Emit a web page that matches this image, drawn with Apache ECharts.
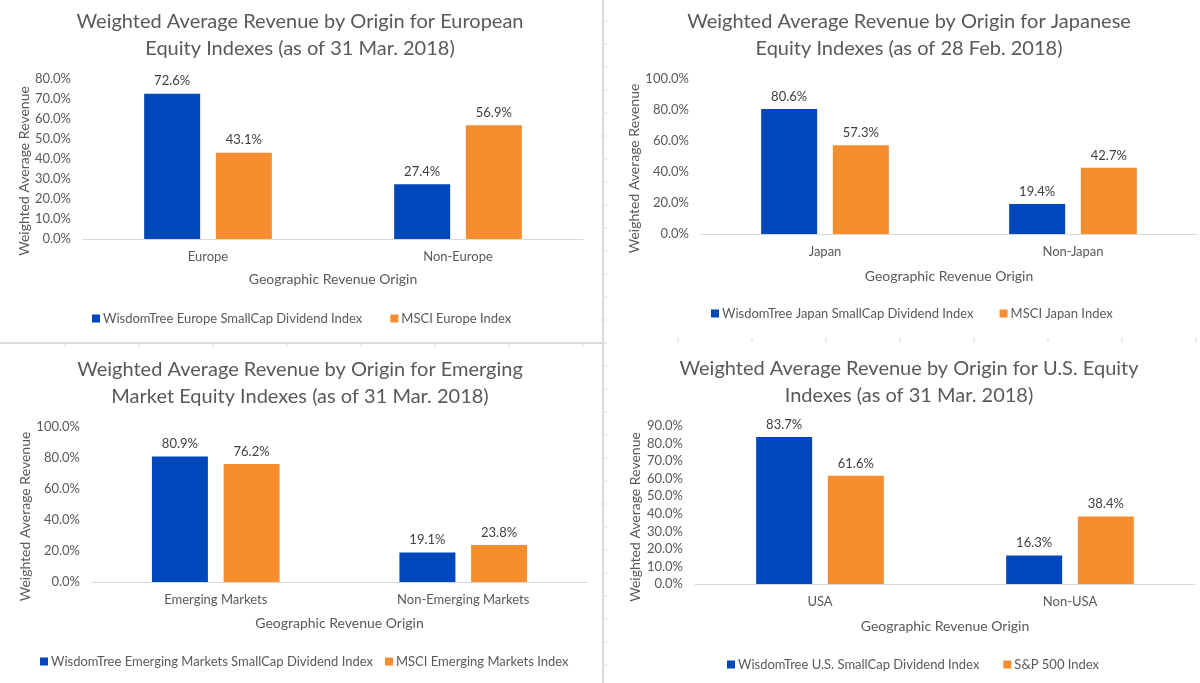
<!DOCTYPE html>
<html>
<head>
<meta charset="utf-8">
<title>Weighted Average Revenue by Origin</title>
<script src="https://cdn.jsdelivr.net/npm/echarts@6/dist/echarts.min.js"></script>
<style>
  html, body { margin: 0; padding: 0; background: #fff; }
  #main { width: 1200px; height: 683px; }
</style>
</head>
<body>
<div id="main"></div>
<script>
// 数据 (values in %)
var euCats = ['Europe', 'Non-Europe'];
var euNames = ['WisdomTree Europe SmallCap Dividend Index', 'MSCI Europe Index'];
var euWT = [72.6, 27.4];
var euMSCI = [43.1, 56.9];

var jpCats = ['Japan', 'Non-Japan'];
var jpNames = ['WisdomTree Japan SmallCap Dividend Index', 'MSCI Japan Index'];
var jpWT = [80.6, 19.4];
var jpMSCI = [57.3, 42.7];

var emCats = ['Emerging Markets', 'Non-Emerging Markets'];
var emNames = ['WisdomTree Emerging Markets SmallCap Dividend Index', 'MSCI Emerging Markets Index'];
var emWT = [80.9, 19.1];
var emMSCI = [76.2, 23.8];

var usCats = ['USA', 'Non-USA'];
var usNames = ['WisdomTree U.S. SmallCap Dividend Index', 'S&P 500 Index'];
var usWT = [83.7, 16.3];
var usSP = [61.6, 38.4];

var titles = [
    'Weighted Average Revenue by Origin for European\nEquity Indexes (as of 31 Mar. 2018)',
    'Weighted Average Revenue by Origin for Japanese\nEquity Indexes (as of 28 Feb. 2018)',
    'Weighted Average Revenue by Origin for Emerging\nMarket Equity Indexes (as of 31 Mar. 2018)',
    'Weighted Average Revenue by Origin for U.S. Equity\nIndexes (as of 31 Mar. 2018)'
];
var yMax = [80, 100, 100, 90];
var yStep = [10, 20, 20, 10];

var BLUE = '#0047BB',
    ORANGE = '#F68D2E',
    GREY = '#595959',
    FONT = 'Lato';

// 每个小图的位置
var panels = [
    { grid: { left: 83, top: 79, width: 500, height: 160 }, titleX: 300, titleY: 8, legendX: 92, legendY: 312, legendGap: 28, nameGap: 51, xNameGap: 33, cats: euCats, names: euNames, a: euWT, b: euMSCI },
    { grid: { left: 701, top: 79, width: 496, height: 155 }, titleX: 909, titleY: 8, legendX: 711, legendY: 307, legendGap: 26, nameGap: 60, xNameGap: 35, cats: jpCats, names: jpNames, a: jpWT, b: jpMSCI },
    { grid: { left: 92, top: 427, width: 495, height: 155 }, titleX: 300, titleY: 356, legendX: 40, legendY: 655, legendGap: 12, nameGap: 60, xNameGap: 34, cats: emCats, names: emNames, a: emWT, b: emMSCI },
    { grid: { left: 695, top: 426, width: 500, height: 158 }, titleX: 909, titleY: 355, legendX: 727, legendY: 658, legendGap: 24, nameGap: 53, xNameGap: 35, cats: usCats, names: usNames, a: usWT, b: usSP }
];

var pct = function(v){ return v.toFixed(1) + '%'; };

var option = {
    backgroundColor: '#fff',
    textStyle: { fontFamily: FONT },
    animation: false,
    title: [], legend: [], grid: [], xAxis: [], yAxis: [], series: [],
    graphic: []
};

for (var i = 0; i < panels.length; i++) {
    var p = panels[i];
    option.title.push({
        text: titles[i],
        left: p.titleX,
        top: p.titleY,
        textAlign: 'center',
        padding: 0,
        textStyle: { fontFamily: FONT, fontSize: 20, fontWeight: 'normal', color: GREY, lineHeight: 27 }
    });
    option.grid.push(p.grid);
    option.xAxis.push({
        type: 'category',
        gridIndex: i,
        data: p.cats,
        name: 'Geographic Revenue Origin',
        nameLocation: 'middle',
        nameGap: p.xNameGap,
        nameTextStyle: { fontFamily: FONT, fontSize: 14, color: GREY },
        axisLine: { lineStyle: { color: '#D9D9D9', width: 1 } },
        axisTick: { show: false },
        axisLabel: { fontFamily: FONT, fontSize: 13, color: GREY, margin: 11 }
    });
    option.yAxis.push({
        type: 'value',
        gridIndex: i,
        min: 0,
        max: yMax[i],
        interval: yStep[i],
        name: 'Weighted Average Revenue',
        nameLocation: 'middle',
        nameRotate: 90,
        nameGap: p.nameGap,
        nameTextStyle: { fontFamily: FONT, fontSize: 14, color: GREY, padding: [0, 24, 0, 0] },
        axisLine: { show: false },
        axisTick: { show: false },
        splitLine: { show: false },
        axisLabel: { fontFamily: FONT, fontSize: 13, color: GREY, margin: 12, formatter: pct }
    });
    option.legend.push({
        data: p.names,
        left: p.legendX,
        top: p.legendY,
        icon: 'rect',
        itemWidth: 8,
        itemHeight: 8,
        itemGap: p.legendGap,
        padding: 0,
        textStyle: { fontFamily: FONT, fontSize: 13, color: GREY, padding: [0, 0, 0, -2] }
    });
    var lbl = {
        show: true,
        position: 'top',
        distance: 6,
        fontFamily: FONT,
        fontSize: 13,
        color: '#404040',
        formatter: function(o){ return pct(o.value); }
    };
    option.series.push({
        name: p.names[0], type: 'bar', xAxisIndex: i, yAxisIndex: i,
        data: p.a, barWidth: 56, barGap: '28%',
        itemStyle: { color: BLUE }, label: lbl
    });
    option.series.push({
        name: p.names[1], type: 'bar', xAxisIndex: i, yAxisIndex: i,
        data: p.b, barWidth: 56, barGap: '28%',
        itemStyle: { color: ORANGE }, label: lbl
    });
}

// 表格边线 (spreadsheet gaps between the charts)
var lineStyle = { stroke: '#D9D9D9', lineWidth: 2 };
option.graphic.push({ type: 'line', shape: { x1: 603, y1: 0, x2: 603, y2: 683 }, style: lineStyle, silent: true });
option.graphic.push({ type: 'line', shape: { x1: 0, y1: 343, x2: 603, y2: 343 }, style: lineStyle, silent: true });
var tickStyle = { stroke: '#D9D9D9', lineWidth: 1 };
for (var y = 21; y < 683; y += 23) {
    option.graphic.push({ type: 'line', shape: { x1: 603, y1: y, x2: 607, y2: y }, style: tickStyle, silent: true });
}
for (var x = 65; x < 600; x += 74) {
    option.graphic.push({ type: 'line', shape: { x1: x, y1: 343, x2: x, y2: 347 }, style: tickStyle, silent: true });
}
for (var x2 = 678; x2 < 1200; x2 += 74) {
    option.graphic.push({ type: 'line', shape: { x1: x2, y1: 338, x2: x2, y2: 343 }, style: tickStyle, silent: true });
}

var myChart = echarts.init(document.getElementById('main'));
myChart.setOption(option);
</script>
</body>
</html>
